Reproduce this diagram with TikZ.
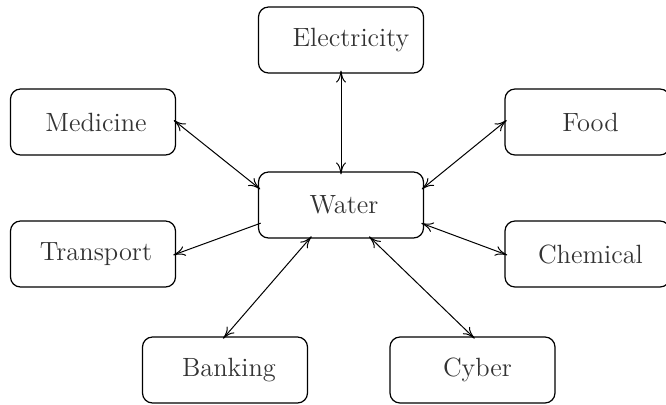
\documentclass[tikz,border=0pt]{standalone}
\usetikzlibrary{arrows.meta}
\tikzset{
  sector/.style={draw, rounded corners=5pt, minimum width=82.5pt, minimum height=33pt,
    inner sep=0pt, line width=0.6pt, font=\fontsize{13.2}{16}\selectfont, text=black!80},
  link/.style={line width=0.5pt, >={To[length=6pt,width=5pt]},
    shorten >=-1.5pt, shorten <=-1.5pt}
}
\begin{document}
\begin{tikzpicture}[x=0.5pt,y=-0.5pt]
\useasboundingbox (0,0) rectangle (666,404);
\node[sector] (E) at (341,40) {\hspace*{10pt}Electricity};
\node[sector] (M) at (93,122) {\hspace*{3pt}Medicine};
\node[sector] (F) at (587.5,122) {\hspace*{3pt}Food};
\node[sector] (W) at (341,205) {\hspace*{3pt}Water};
\node[sector] (T) at (93,254) {\hspace*{3pt}Transport};
\node[sector] (C) at (587.5,254) {\hspace*{3pt}Chemical};
\node[sector] (B) at (225,370) {\hspace*{4pt}Banking};
\node[sector] (Y) at (472.5,370) {\hspace*{5pt}Cyber};
\draw[link,<->] (E.south) -- (W.north);
\draw[link,<->] (M.east) -- (W.168);
\draw[link,<->] (F.west) -- (W.12);
\draw[link,->] (W.193) -- (T.east);
\draw[link,<->] (W.347) -- (C.west);
\draw[link,<->] (W.227) -- (B.north);
\draw[link,<->] (W.312) -- (Y.north);
\end{tikzpicture}
\end{document}
